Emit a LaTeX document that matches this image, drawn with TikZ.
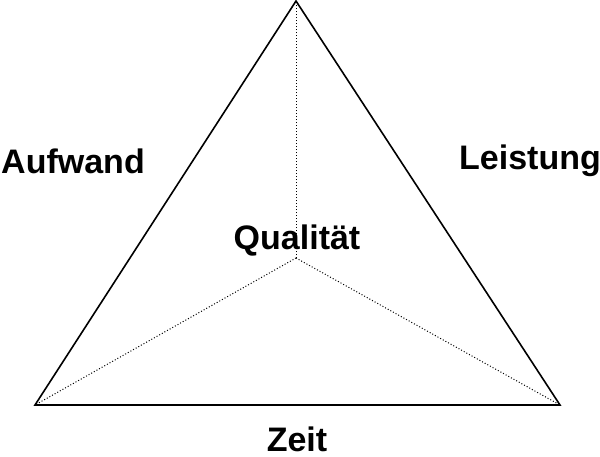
\documentclass[tikz,border=0pt]{standalone}
\usepackage{fontspec}
\setmainfont{Liberation Sans}
\begin{document}
\begin{tikzpicture}[x=1pt,y=-1pt]
\tikzset{lbl/.style={font=\fontsize{34}{36}\selectfont\bfseries, inner sep=0pt}}
\useasboundingbox (0,0) rectangle (600,456);
% vertices and centre
\coordinate (top) at (296,1);
\coordinate (left) at (35,405);
\coordinate (right) at (560,405);
\coordinate (mid) at (296,258);
\draw[line width=1.6pt, line join=miter] (top) -- (left) -- (right) -- cycle;
\draw[dotted, line width=1pt] (mid) -- (top);
\draw[dotted, line width=1pt] (mid) -- (left);
\draw[dotted, line width=1pt] (mid) -- (right);
% labels
\node[lbl] (aufwand) at (73,161) {Aufwand};
\node[lbl] (leistung) at (530,161) {Leistung};
\node[lbl] (qualitaet) at (297,241) {Qualität};
\node[lbl] (zeit) at (297,439) {Zeit};
\end{tikzpicture}
\end{document}
